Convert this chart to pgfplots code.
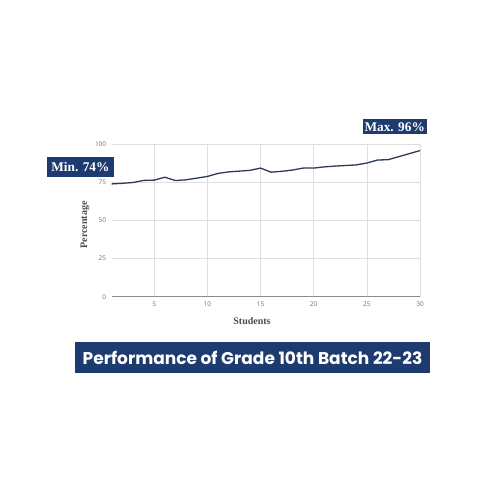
\documentclass[border=0pt]{standalone}
\usepackage{pgfplots}
\pgfplotsset{compat=1.18}
\usepackage{fontspec}
\setmainfont{Liberation Serif}
\newfontfamily\poppins{Poppins}
\newfontfamily\ticksans{Open Sans}
\definecolor{navy}{RGB}{29,59,110}
\definecolor{linecol}{RGB}{45,58,85}
\begin{document}
\begin{tikzpicture}[x=1pt,y=1pt]
\path[use as bounding box] (0,0) rectangle (500,500);
\fill[white] (0,0) rectangle (500,500);
\begin{axis}[
  at={(111.7pt,203.3pt)}, anchor=south west,
  scale only axis, width=308.3pt, height=152.2pt,
  xmin=1, xmax=30, ymin=0, ymax=100,
  xtick={5,10,15,20,25,30}, ytick={0,25,50,75,100},
  grid=major, major grid style={draw=black!13, line width=0.6pt},
  axis line style={draw=none},
  major tick length=0pt,
  tick label style={font=\ticksans\fontsize{6.5}{7}\selectfont, text=black!55},
  /pgf/number format/assume math mode=true,
  xticklabel style={yshift=-2pt},
  yticklabel style={xshift=-2pt},
  clip=false,
]
\draw[black!45, line width=0.7pt] (axis cs:1,0) -- (axis cs:30,0);
\addplot[linecol, line width=1.3pt, no marks] coordinates {
(1,74.1) (2,74.5) (3,75) (4,76.4) (5,76.6) (6,78.5) (7,76.3) (8,76.8) (9,77.9) (10,79)
(11,81) (12,82) (13,82.5) (14,83) (15,84.5) (16,81.8) (17,82.4) (18,83.2) (19,84.5) (20,84.5)
(21,85.3) (22,85.8) (23,86.2) (24,86.6) (25,87.8) (26,89.8) (27,90) (28,92) (29,94) (30,96)
};
\end{axis}
\node[rotate=90, font=\bfseries\fontsize{10}{11}\selectfont, text=black!70] at (85,275) {Percentage};
\node[font=\bfseries\fontsize{10}{11}\selectfont, text=black!70] at (252,179.3) {Students};
\node[fill=navy, text=white, minimum width=67.3pt, minimum height=20pt, inner sep=0pt,
  font=\bfseries\fontsize{13.3}{14}\selectfont] at (80.4,333) {Min. 74\%};
\node[fill=navy, text=white, minimum width=64pt, minimum height=15.3pt, inner sep=0pt,
  font=\bfseries\fontsize{13.3}{14}\selectfont] at (394.7,373.3) {Max. 96\%};
\node[fill=navy, text=white, minimum width=355pt, minimum height=30.4pt, inner sep=0pt,
  font=\poppins\bfseries\fontsize{17}{18}\selectfont] at (252.5,142.5) {Performance of Grade 10th Batch 22-23};
\end{tikzpicture}
\end{document}
